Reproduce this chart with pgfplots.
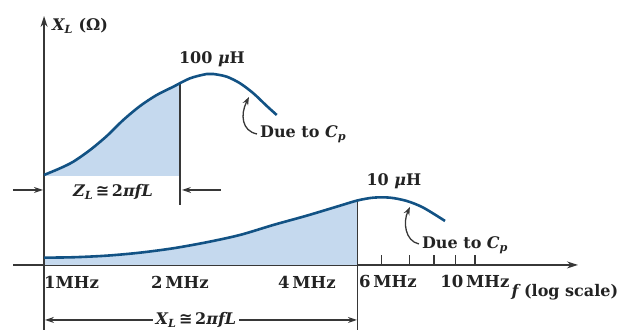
\documentclass[border=0pt]{standalone}
\usepackage{fontspec}
\setmainfont{DejaVu Serif}
\newfontfamily\symf{DejaVu Sans}
\usepackage{pgfplots}
\pgfplotsset{compat=1.18}
\usetikzlibrary{arrows.meta}
\definecolor{curveblue}{RGB}{18,82,132}
\definecolor{shade}{RGB}{197,217,238}
\definecolor{linegray}{RGB}{55,55,55}
\definecolor{textgray}{RGB}{35,35,35}
\begin{document}
\begin{tikzpicture}
\begin{axis}[
  scale only axis, width=565pt, height=314pt,
  xmode=log, xmin=0.8040, xmax=17.54, ymin=-65, ymax=249,
  enlargelimits=false, axis x line=middle, axis y line=none,
  axis line style={draw=linegray, line width=1.3pt},
  x axis line style={-{Stealth[length=11pt,width=7pt]}},
  xtick={2,3,4,5,6,7,8,9,10}, xticklabels={}, minor xtick={},
  ytick=\empty, xtick align=inside, major tick length=10pt,
  tick style={draw=linegray, line width=1.3pt},
  clip=false,
]
% shaded areas
\addplot[fill=shade, draw=none] coordinates {
 (0.9521,89) (0.9521,90) (1.039,96.7) (1.117,103.3) (1.224,115) (1.341,129) (1.467,145) (1.608,159) (1.761,170) (1.928,178.3) (2,181) (2,89)};
\addplot[fill=shade, draw=none] coordinates {
 (0.9521,0) (0.9521,7.3) (1.117,7.7) (1.341,9.3) (1.608,12.3) (1.928,16.7) (2.313,22.7) (2.774,30) (3.327,40) (3.993,49.3) (4.787,59.3) (5.266,64.5) (5.266,0)};
% y axis
\draw[draw=linegray, line width=1.3pt, -{Stealth[length=11pt,width=7pt]}] (axis cs:0.9521,-65) -- (axis cs:0.9521,249);
% vertical limit lines
\addplot[draw=linegray, line width=1.3pt] coordinates {(2,181) (2,60)};
\addplot[draw=linegray, line width=1.3pt] coordinates {(5.266,64.5) (5.266,-65)};
% 100 uH curve
\addplot[smooth, draw=curveblue, line width=2.6pt] coordinates {
 (0.9521,90) (1.039,96.7) (1.117,103.3) (1.224,115) (1.341,129) (1.467,145) (1.608,159) (1.761,170) (1.928,178.3) (2.112,186.7) (2.313,191) (2.398,191) (2.580,188.3) (2.774,181.7) (2.983,171.7) (3.210,159) (3.389,150)};
% 10 uH curve
\addplot[smooth, draw=curveblue, line width=2.6pt] coordinates {
 (0.9521,7.3) (1.117,7.7) (1.341,9.3) (1.608,12.3) (1.928,16.7) (2.313,22.7) (2.774,30) (3.327,40) (3.993,49.3) (4.787,59.3) (5.266,64.5) (5.741,67.3) (6.290,67.3) (6.889,64) (7.543,57.3) (8.490,44)};
\coordinate (TL) at (axis cs:0.7487,265);
\coordinate (BR) at (axis cs:21.94,-65);
\end{axis}
\pgfresetboundingbox
\path[use as bounding box] (TL) rectangle (BR);
\begin{scope}[shift={(TL)}, x=1pt, y=-1pt, font=\fontsize{16}{18}\selectfont\bfseries, text=textgray]
  \node[anchor=west, inner sep=0] at (52,26) {\itshape X\textsubscript{L}\upshape\ (Ω)};
  \node[inner sep=0] at (212,59) {100 \textit{μ}H};
  \node[anchor=west, inner sep=0] at (260,134) {Due to \textit{C}\textsubscript{\textit{p}}};
  \draw[draw=linegray, line width=1.3pt, -{Stealth[length=8pt,width=6pt]}] (257,134) .. controls (242,131) and (240,115) .. (249,97);
  \node[inner sep=0] at (394,181) {10 \textit{μ}H};
  \node[anchor=west, inner sep=0] at (422,245) {Due to \textit{C}\textsubscript{\textit{p}}};
  \draw[draw=linegray, line width=1.3pt, -{Stealth[length=8pt,width=6pt]}] (419,244) .. controls (405,241) and (403,222) .. (410,207);
  % Z_L dimension
  \node[inner sep=0] at (113,192) {\itshape Z\textsubscript{L}\,{\symf\upshape ≅}\,\upshape 2\textit{πfL}};
  \draw[draw=linegray, line width=1.3pt, -{Stealth[length=9pt,width=6pt]}] (13,190) -- (43,190);
  \draw[draw=linegray, line width=1.3pt, -{Stealth[length=9pt,width=6pt]}] (221,190) -- (182,190);
  % X_L dimension
  \draw[draw=linegray, line width=1.3pt, {Stealth[length=9pt,width=6pt]}-{Stealth[length=9pt,width=6pt]}] (45,320) -- (357,320);
  \node[fill=white, inner xsep=3pt, inner ysep=1pt] at (196,320) {\itshape X\textsubscript{L}\,{\symf\upshape ≅}\,\upshape 2\textit{πfL}};
  % tick labels
  \begin{scope}[font=\fontsize{16.5}{18}\selectfont\bfseries]
  \node[anchor=west, inner sep=0] at (44,282) {1MHz};
  \node[inner sep=0] at (180,282) {2\,MHz};
  \node[inner sep=0] at (307,282) {4\,MHz};
  \node[inner sep=0] at (388,282) {6\,MHz};
  \node[inner sep=0] at (475,282) {10\,MHz};
  \end{scope}
  \node[inner sep=0] at (565,292) {\itshape f\upshape\ (log scale)};
\end{scope}
\end{tikzpicture}
\end{document}
